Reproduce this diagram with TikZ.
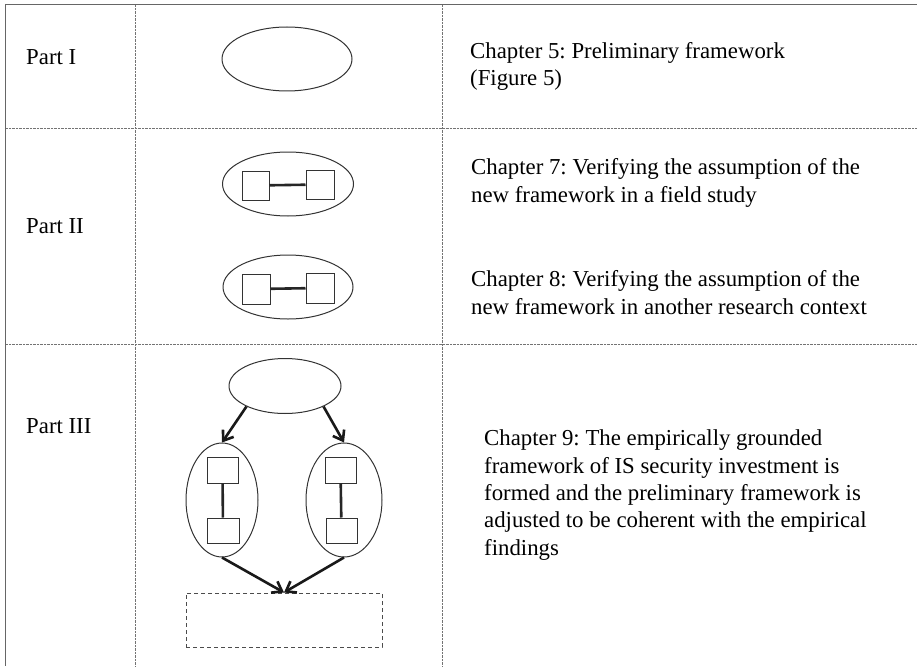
\documentclass[tikz,border=0pt]{standalone}
\usepackage{fontspec}
\setmainfont{Liberation Serif}
\usepackage{tikz}
\usetikzlibrary{arrows.meta,positioning,shapes.geometric}
\frenchspacing

\tikzset{
  grid/.style={black!55, line width=0.8pt, dash pattern=on 0.8pt off 0.6pt},
  frame/.style={black!60, line width=1.5pt},
  oval/.style={draw=black!80, ellipse, line width=1pt, inner sep=0pt},
  sq/.style={draw=black!80, rectangle, line width=1pt, inner sep=0pt},
  link/.style={line width=2.6pt, black!85},
  flow/.style={-{Straight Barb[length=9pt,width=13pt]}, line width=2.6pt, black!90},
  txt/.style={anchor=base west, align=left, inner sep=0pt}
}

\begin{document}
\begin{tikzpicture}[x=1pt, y=-1pt, every node/.style={font=\fontsize{22.8}{27.3}\selectfont}]
    \useasboundingbox (0,0) rectangle (917,666);

    % Table lines
    \draw[frame] (5.5,4.5) -- (917,4.5);
    \draw[frame] (5.5,4) -- (5.5,666);
    \draw[grid] (135,5) -- (135,666);
    \draw[grid] (442,5) -- (442,666);
    \draw[grid] (6,128) -- (917,128);
    \draw[grid] (6,344) -- (917,344);

    % Row labels
    \node[txt] (p1) at (26,65) {Part I};
    \node[txt] (p2) at (26,233) {Part II};
    \node[txt] (p3) at (26,433) {Part III};

    % Part I (base = last line)
    \node[oval, minimum width=130pt, minimum height=64pt] (pre) at (287,59) {};
    \node[txt] (c5) at (470,86) {Chapter 5: Preliminary framework\\(Figure 5)};

    % Part II
    \node[oval, minimum width=131pt, minimum height=64pt] (fa) at (288,184) {};
    \node[sq, minimum width=27pt, minimum height=29pt] (fa1) at (255.5,185.5) {};
    \node[sq, minimum width=28pt, minimum height=29pt] (fa2) at (320,184.5) {};
    \draw[link] (fa1) -- (fa2);
    \node[txt] (c7) at (471,202) {Chapter 7: Verifying the assumption of the\\new framework in a field study};

    \node[oval, minimum width=130pt, minimum height=64pt] (fb) at (288,287) {};
    \node[sq, minimum width=28pt, minimum height=30pt] (fb1) at (256,289) {};
    \node[sq, minimum width=28pt, minimum height=30pt] (fb2) at (320,288) {};
    \draw[link] (fb1) -- (fb2);
    \node[txt] (c8) at (471,314) {Chapter 8: Verifying the assumption of the\\new framework in another research context};

    % Part III
    \node[oval, minimum width=112pt, minimum height=55pt] (top) at (285,386) {};
    \node[oval, minimum width=72pt, minimum height=114pt] (lft) at (222,500) {};
    \node[oval, minimum width=76pt, minimum height=114pt] (rgt) at (344,500) {};
    \node[sq, minimum width=31pt, minimum height=26pt] (l1) at (222.5,470) {};
    \node[sq, minimum width=32pt, minimum height=25pt] (l2) at (223,530.5) {};
    \node[sq, minimum width=31pt, minimum height=26pt] (r1) at (340.5,470) {};
    \node[sq, minimum width=31pt, minimum height=25pt] (r2) at (341.5,530.5) {};
    \draw[link] (l1) -- (l2);
    \draw[link] (r1) -- (r2);
    \node[draw=black!70, dash pattern=on 4pt off 3pt, line width=1pt,
          minimum width=196pt, minimum height=54pt] (res) at (284,620) {};

    \draw[flow] (top.208) -- (lft.north);
    \draw[flow] (top.-28) -- (rgt.north);
    \draw[flow] (lft.south) -- (res.north);
    \draw[flow] (rgt.south) -- (res.north);

    \node[txt] (c9) at (484,555) {Chapter 9: The empirically grounded\\framework of IS security investment is\\formed and the preliminary framework is\\adjusted to be coherent with the empirical\\findings};
\end{tikzpicture}
\end{document}
